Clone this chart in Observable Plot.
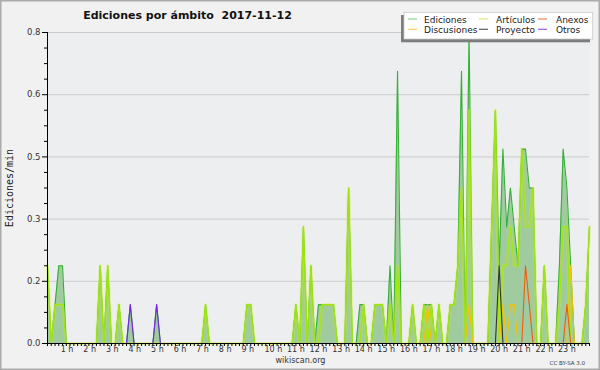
<!DOCTYPE html>
<html><head><meta charset="utf-8">
<script src="https://cdn.jsdelivr.net/npm/d3@7"></script>
<script src="https://cdn.jsdelivr.net/npm/@observablehq/plot@0.6"></script>
<style>html,body{margin:0;padding:0;background:#f1f1f1;} #chart svg{display:block}</style>
</head><body><div id="chart"></div>
<script>
// 10-minute bins, index i = 0..144 (i*10 minutes after 00:00), edits per minute
const ediciones = [
  0.2,0,0.1,0.2,0.2,0,0,0,0,0,0,0,
  0,0,0.2,0,0.2,0,0,0.1,0,0,0.1,0,
  0,0,0,0,0,0.1,0,0,0,0,0,0,
  0,0,0,0,0,0,0.1,0,0,0,0,0,
  0,0,0,0,0,0.1,0.1,0,0,0,0,0,
  0,0,0,0,0,0,0.1,0,0.3,0,0.2,0,
  0.1,0.1,0.1,0.1,0.1,0,0,0,0.4,0,0,0.1,
  0.1,0,0,0.1,0.1,0.1,0,0.2,0,0.7,0,0,
  0,0.1,0,0,0.1,0.1,0.1,0,0.1,0,0,0.1,
  0.1,0.2,0.7,0,0.8,0,0,0,0,0,0.3,0.6,
  0.2,0.5,0.3,0.4,0.3,0.2,0.5,0.5,0.4,0.4,0,0,
  0.2,0,0,0,0.2,0.5,0.4,0.2,0,0,0,0.1,
  0.3
];
const articulos = [
  0.2,0,0.1,0.1,0.1,0,0,0,0,0,0,0,
  0,0,0.2,0,0.2,0,0,0.1,0,0,0,0,
  0,0,0,0,0,0,0,0,0,0,0,0,
  0,0,0,0,0,0,0.1,0,0,0,0,0,
  0,0,0,0,0,0.1,0.1,0,0,0,0,0,
  0,0,0,0,0,0,0.1,0,0.3,0,0.2,0,
  0,0.1,0.1,0.1,0.1,0,0,0,0.4,0,0,0,
  0.1,0,0,0.1,0.1,0.1,0,0.1,0,0.2,0,0,
  0,0.1,0,0,0.1,0,0.1,0,0.1,0,0,0.1,
  0.1,0.2,0.4,0,0.6,0,0,0,0,0,0.3,0.6,
  0,0.2,0.2,0.3,0.2,0.2,0.5,0.3,0.3,0.4,0,0,
  0.2,0,0,0,0.1,0.3,0.3,0,0,0,0,0.1,
  0.3
];
const discusiones = [
  0,0,0,0,0,0,0,0,0,0,0,0,
  0,0,0,0,0,0,0,0,0,0,0,0,
  0,0,0,0,0,0,0,0,0,0,0,0,
  0,0,0,0,0,0,0,0,0,0,0,0,
  0,0,0,0,0,0,0,0,0,0,0,0,
  0,0,0,0,0,0,0,0,0,0,0,0,
  0,0,0,0,0,0,0,0,0,0,0,0,
  0,0,0,0,0,0,0,0,0,0,0,0,
  0,0,0,0,0,0.1,0,0,0,0,0,0,
  0,0,0,0,0.1,0,0,0,0,0,0,0,
  0,0.1,0,0.1,0.1,0,0,0,0,0,0,0,
  0,0,0,0,0,0,0,0.2,0,0,0,0,
  0
];
const anexos = [
  0,0,0,0,0,0,0,0,0,0,0,0,
  0,0,0,0,0,0,0,0,0,0,0,0,
  0,0,0,0,0,0,0,0,0,0,0,0,
  0,0,0,0,0,0,0,0,0,0,0,0,
  0,0,0,0,0,0,0,0,0,0,0,0,
  0,0,0,0,0,0,0,0,0,0,0,0,
  0,0,0,0,0,0,0,0,0,0,0,0,
  0,0,0,0,0,0,0,0,0,0,0,0,
  0,0,0,0,0,0,0,0,0,0,0,0,
  0,0,0,0,0,0,0,0,0,0,0,0,
  0,0,0,0,0,0,0,0.2,0.1,0,0,0,
  0,0,0,0,0,0,0.1,0,0,0,0,0,
  0
];
const proyecto = [
  0,0,0,0,0,0,0,0,0,0,0,0,
  0,0,0,0,0,0,0,0,0,0,0,0,
  0,0,0,0,0,0,0,0,0,0,0,0,
  0,0,0,0,0,0,0,0,0,0,0,0,
  0,0,0,0,0,0,0,0,0,0,0,0,
  0,0,0,0,0,0,0,0,0,0,0,0,
  0,0,0,0,0,0,0,0,0,0,0,0,
  0,0,0,0,0,0,0,0,0,0,0,0,
  0,0,0,0,0,0,0,0,0,0,0,0,
  0,0,0,0,0,0,0,0,0,0,0,0,
  0.2,0,0,0,0,0,0,0,0,0,0,0,
  0,0,0,0,0,0,0,0,0,0,0,0,
  0
];
const otros = [
  0,0,0,0,0,0,0,0,0,0,0,0,
  0,0,0,0,0,0,0,0,0,0,0.1,0,
  0,0,0,0,0,0.1,0,0,0,0,0,0,
  0,0,0,0,0,0,0,0,0,0,0,0,
  0,0,0,0,0,0,0,0,0,0,0,0,
  0,0,0,0,0,0,0,0,0,0,0,0,
  0,0,0,0,0,0,0,0,0,0,0,0,
  0,0,0,0,0,0,0,0,0,0,0,0,
  0,0,0,0,0,0,0,0,0,0,0,0,
  0,0,0,0,0,0,0,0,0,0,0,0,
  0,0,0,0,0,0,0,0,0,0,0,0,
  0,0,0,0,0,0,0,0,0,0,0,0,
  0
];
const binMinutes = 10;
const yMajor = [0, 0.16, 0.32, 0.48, 0.64, 0.8];
const yMinor = [0.04,0.08,0.12,0.2,0.24,0.28,0.36,0.4,0.44,0.52,0.56,0.6,0.68,0.72,0.76];
const hourLabels = [1,2,3,4,5,6,7,8,9,10,11,12,13,14,15,16,17,18,19,20,21,22,23];
const titleText = "Ediciones por ámbito  2017-11-12";
const yLabel = "Ediciones/min";
const legendItems = [
  {name: "Ediciones", color: "#8ed08e", col: 0, row: 0},
  {name: "Artículos", color: "#d2f07a", col: 1, row: 0},
  {name: "Anexos", color: "#f0875a", col: 2, row: 0},
  {name: "Discusiones", color: "#f6d25a", col: 0, row: 1},
  {name: "Proyecto", color: "#606060", col: 1, row: 1},
  {name: "Otros", color: "#9a5cf0", col: 2, row: 1}
];

const data = ediciones.map((e, i) => ({
  t: i * binMinutes, E: e, A: articulos[i], D: discusiones[i],
  N: anexos[i], P: proyecto[i], O: otros[i]
}));
const xTicks = d3.range(0, 1441, 10);

const chart = Plot.plot({
  width: 600, height: 370,
  marginLeft: 47, marginRight: 11, marginTop: 32, marginBottom: 27,
  style: {background: "#f1f1f1", fontFamily: "DejaVu Sans", fontSize: "8px", color: "#333"},
  x: {domain: [0, 1440]},
  y: {domain: [0, 0.8]},
  marks: [
    Plot.frame({fill: "#edeef0", stroke: null}),
    Plot.ruleY(yMajor.slice(1), {stroke: "#cacaca"}),
    Plot.areaY(data, {x: "t", y: "E", fill: "#a0cb9f"}),
    Plot.lineY(data, {x: "t", y: "E", stroke: "#35b035", strokeWidth: 1.1}),
    Plot.lineY(data, {x: "t", y: "A", stroke: "#c8f21a", strokeWidth: 3, strokeOpacity: 0.35}),
    Plot.lineY(data, {x: "t", y: "A", stroke: "#a2e412", strokeWidth: 1.2}),
    Plot.lineY(data, {x: "t", y: "D", stroke: "#f4c400", strokeWidth: 1.1}),
    Plot.lineY(data, {x: "t", y: "N", stroke: "#f05a10", strokeWidth: 1.1}),
    Plot.lineY(data, {x: "t", y: "P", stroke: "#333333", strokeWidth: 1.1}),
    Plot.lineY(data, {x: "t", y: "O", stroke: "#7424e6", strokeWidth: 1.1}),
    Plot.axisY({ticks: yMajor, tickSize: 5, tickPadding: 2, tickFormat: d => d.toFixed(1), label: null, fontSize: 8.5, stroke: "#000"}),
    Plot.axisY({ticks: yMinor, tickSize: 3, tickFormat: () => "", label: null, stroke: "#000"}),
    Plot.axisX({ticks: xTicks, tickSize: 3, tickFormat: () => "", label: null, stroke: "#000"}),
    Plot.text(hourLabels.filter(h => h < 10), {x: d => d * 60, frameAnchor: "bottom", dy: 8, dx: -3, text: d => d + " h", fontSize: 8, fill: "#333"}),
    Plot.text(hourLabels.filter(h => h >= 10), {x: d => d * 60, frameAnchor: "bottom", dy: 8, text: d => d + " h", fontSize: 8, fill: "#333"}),
    Plot.ruleX([0], {stroke: "#000"}),
    Plot.ruleY([0], {stroke: "#000"})
  ]
});
document.getElementById("chart").append(chart);

const svg = d3.select(chart);
// outer border
svg.append("rect").attr("x", 0.75).attr("y", 0.75).attr("width", 598.5).attr("height", 368.5)
  .attr("fill", "none").attr("stroke", "#ababab").attr("stroke-width", 1.5);
// title
svg.append("text").attr("x", 187.5).attr("y", 19).attr("text-anchor", "middle")
  .attr("font-family", "DejaVu Sans").attr("font-weight", "bold").attr("font-size", 11)
  .attr("fill", "#111").style("white-space", "pre").text(titleText);
// y label
svg.append("text").attr("transform", "translate(13,188) rotate(-90)").attr("text-anchor", "middle")
  .attr("font-family", "DejaVu Sans Mono").attr("font-size", 10).attr("fill", "#222").text(yLabel);
// footer
svg.append("text").attr("x", 300.5).attr("y", 362.5).attr("text-anchor", "middle")
  .attr("font-family", "DejaVu Sans").attr("font-size", 8).attr("fill", "#333").text("wikiscan.org");
svg.append("text").attr("x", 585).attr("y", 364.5).attr("text-anchor", "end")
  .attr("font-family", "DejaVu Sans").attr("font-size", 5.5).attr("fill", "#333").text("CC BY-SA 3.0");
// legend
const lg = svg.append("g");
lg.append("rect").attr("x", 401).attr("y", 15).attr("width", 189).attr("height", 27.3).attr("fill", "#7d7d7d");
lg.append("rect").attr("x", 404).attr("y", 12.3).attr("width", 188.7).attr("height", 26.7)
  .attr("fill", "#fff").attr("stroke", "#c8c8c8").attr("stroke-width", 0.8);
const colLine = [408, 479, 538], colText = [424, 496, 556];
const rowLine = [19, 29.3], rowText = [22.6, 33];
for (const it of legendItems) {
  lg.append("line").attr("x1", colLine[it.col]).attr("x2", colLine[it.col] + 9)
    .attr("y1", rowLine[it.row]).attr("y2", rowLine[it.row]).attr("stroke", it.color).attr("stroke-width", 1.2);
  lg.append("text").attr("x", colText[it.col]).attr("y", rowText[it.row]).attr("text-anchor", "start")
    .attr("font-family", "DejaVu Sans").attr("font-size", 9).attr("fill", "#222").text(it.name);
}
</script>
</body></html>
